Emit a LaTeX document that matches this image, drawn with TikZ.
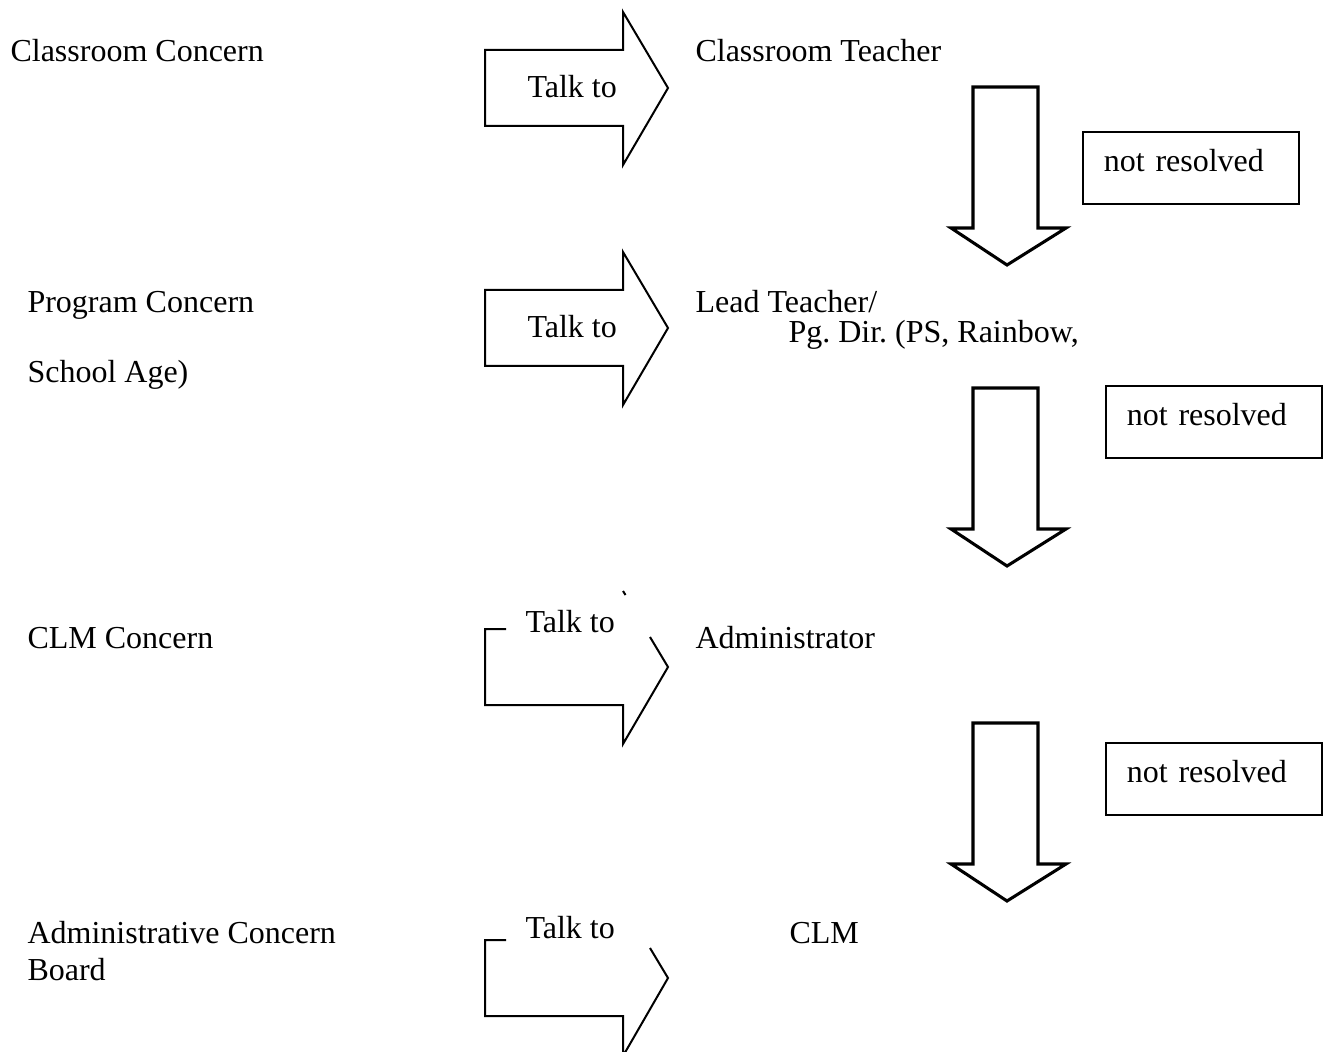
\documentclass[tikz,border=0pt]{standalone}
\usepackage{fontspec}
\setmainfont{Liberation Serif}
\frenchspacing
\begin{document}
\begin{tikzpicture}[
    x=0.375pt, y=-0.375pt,
    font=\fontsize{12}{14}\selectfont,
    txt/.style={anchor=base west, inner sep=0pt},
    rightarrow/.style={draw, line width=0.75pt},
    downarrow/.style={draw, line width=1.15pt},
    resbox/.style={draw, line width=0.7pt, anchor=north west, text width=65.25pt, inner xsep=7.875pt, inner ysep=0pt, minimum height=27pt, text height=8pt, text depth=5pt, align=left}
]
    \clip (0,0) rectangle (1332,1051);

    % Concerns
    \node[txt] (classroom) at (10,62) {Classroom Concern};
    \node[txt] (program) at (27,313) {Program Concern};
    \node[txt] (schoolage) at (27,382) {School Age)};
    \node[txt] (clmconcern) at (27,648) {CLM Concern};
    \node[txt] (admin) at (27,943) {Administrative Concern};
    \node[txt] (board) at (27,980) {Board};

    % Talk to arrows
    \foreach \c in {88,328}
        \draw[rightarrow] (485,\c-38) -- (623,\c-38) -- (623,\c-76) -- (668,\c) -- (623,\c+77) -- (623,\c+38) -- (485,\c+38) -- cycle;
    \draw[rightarrow] (506,629) -- (485,629) -- (485,705) -- (623,705) -- (623,744) -- (668,667) -- (650,637);
    \draw[rightarrow] (623,591) -- (625.5,595);
    \draw[rightarrow] (506,940) -- (485,940) -- (485,1016) -- (623,1016) -- (623,1056) -- (668,978) -- (650,948);

    \node[txt] (talk1) at (527,98) {Talk to};
    \node[txt] (talk2) at (527,338) {Talk to};
    \node[txt] (talk3) at (525,632) {Talk to};
    \node[txt] (talk4) at (525,938) {Talk to};

    % Who to talk to
    \node[txt] (teacher) at (695,62) {Classroom Teacher};
    \node[txt] (lead) at (695,313) {Lead Teacher/};
    \node[txt] (pgdir) at (788,343) {Pg. Dir. (PS, Rainbow,};
    \node[txt] (administrator) at (695,648) {Administrator};
    \node[txt] (clm) at (789,943) {CLM};

    % Not resolved steps
    \foreach \t in {87,388,723}
        \draw[downarrow] (973,\t) -- (1038,\t) -- (1038,\t+141) -- (1066,\t+141) -- (1007,\t+178) -- (951,\t+141) -- (973,\t+141) -- cycle;

    \node[resbox] (res1) at (1082,131) {not resolved};
    \node[resbox] (res2) at (1105,385) {not resolved};
    \node[resbox] (res3) at (1105,742) {not resolved};
\end{tikzpicture}
\end{document}
